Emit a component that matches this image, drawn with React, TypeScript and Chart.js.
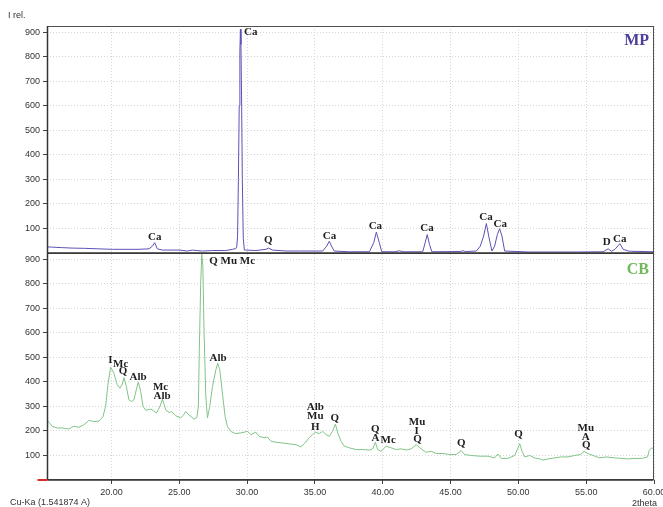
import React, { useEffect, useRef } from "react";
import { Chart, registerables } from "chart.js";

Chart.register(...registerables);

// ---- MP pattern (top panel) ----
const mpTheta = [
  15.25, 15.6, 16.3, 17.1, 18.0, 19.0, 20.06, 21.0, 22.03, 22.77, 23.02, 23.19, 23.38, 23.75,
  24.98, 25.6, 25.97, 26.3, 26.71, 27.45, 28.43, 28.92, 29.17, 29.24, 29.3, 29.36, 29.42, 29.47,
  29.51, 29.55, 29.6, 29.65, 29.72, 29.8, 29.91, 30.65, 31.39, 31.58, 31.88, 32.87, 33.85, 35.57,
  35.87, 36.06, 36.26, 36.43, 37.54, 39.02, 39.34, 39.53, 39.75, 39.93, 40.9, 41.23, 41.5, 42.95,
  43.13, 43.28, 43.45, 43.62, 45.7, 45.91, 46.1, 46.9, 47.19, 47.44, 47.64, 47.84, 48.05, 48.25,
  48.45, 48.62, 48.79, 48.99, 50.84, 54.28, 56.25, 56.62, 56.87, 57.12, 57.48, 57.73, 58.1, 58.35,
  60.0,
];
const mpIntensity = [
  25, 24, 22, 20, 19, 17, 15, 15, 15, 17, 28, 42, 17, 12,
  12, 8, 12, 10, 8, 10, 10, 15, 18, 25, 70, 300, 600, 820,
  912, 850, 600, 300, 60, 12, 12, 10, 15, 20, 12, 8, 8, 8,
  28, 48, 24, 8, 5, 5, 42, 85, 42, 5, 5, 9, 5, 5,
  42, 75, 35, 5, 6, 9, 6, 8, 28, 69, 120, 62, 8, 28,
  75, 99, 69, 8, 4, 4, 5, 17, 7, 15, 38, 15, 8, 7,
  5,
];

// ---- CB pattern (bottom panel) ----
const cbTheta = [
  15.18, 15.4, 15.63, 16.0, 16.37, 16.6, 16.86, 17.05, 17.23, 17.6, 17.97, 18.34, 18.7, 19.08,
  19.37, 19.57, 19.74, 19.94, 20.18, 20.43, 20.63, 20.8, 20.92, 21.1, 21.29, 21.49, 21.66, 21.83,
  21.98, 22.16, 22.33, 22.53, 22.9, 23.1, 23.31, 23.56, 23.76, 24.0, 24.25, 24.44, 24.74, 25.11,
  25.28, 25.48, 25.72, 26.09, 26.3, 26.41, 26.48, 26.58, 26.66, 26.74, 26.83, 26.96, 27.08, 27.25,
  27.45, 27.7, 27.84, 27.99, 28.18, 28.38, 28.55, 28.8, 29.17, 29.54, 29.79, 30.03, 30.28, 30.65,
  30.89, 31.26, 31.5, 31.76, 32.12, 32.62, 33.11, 33.6, 33.97, 34.22, 34.58, 34.83, 35.03, 35.32,
  35.57, 35.82, 36.06, 36.3, 36.51, 36.68, 36.93, 37.17, 37.54, 38.04, 38.52, 39.02, 39.26, 39.46,
  39.63, 39.88, 40.25, 40.62, 40.99, 41.36, 41.73, 42.1, 42.47, 42.83, 43.2, 43.57, 43.94, 44.43,
  44.93, 45.42, 45.79, 46.03, 46.52, 47.14, 47.75, 48.25, 48.49, 48.74, 49.23, 49.73, 49.92, 50.1,
  50.27, 50.47, 50.84, 51.2, 51.58, 51.82, 52.19, 52.68, 53.17, 53.66, 54.16, 54.6, 54.85, 55.1,
  55.51, 56.0, 56.5, 57.11, 57.61, 58.1, 58.59, 59.09, 59.53, 59.65, 59.82, 60.0,
];
const cbIntensity = [
  250, 235, 219, 212, 212, 210, 208, 214, 219, 215, 225, 243, 238, 240,
  257, 300, 388, 460, 435, 388, 374, 390, 417, 381, 327, 320, 327, 367,
  399, 361, 300, 284, 289, 282, 273, 297, 330, 286, 275, 279, 262, 253,
  262, 279, 265, 248, 255, 300, 530, 800, 920, 870, 600, 340, 253, 300,
  381, 449, 476, 449, 354, 259, 219, 198, 189, 192, 195, 198, 185, 195,
  178, 172, 175, 158, 154, 151, 147, 144, 135, 148, 172, 185, 195, 189,
  198, 185, 178, 198, 228, 192, 158, 138, 131, 124, 124, 122, 127, 154,
  124, 117, 138, 131, 124, 127, 122, 127, 144, 127, 113, 117, 108, 108,
  104, 104, 120, 104, 100, 97, 97, 90, 106, 88, 88, 100, 124, 148,
  117, 94, 100, 90, 86, 81, 86, 90, 94, 94, 100, 104, 117, 108,
  100, 90, 94, 90, 88, 86, 88, 88, 94, 121, 131, 127,
];

// ---- ticks ----
const xTickValues = [20, 25, 30, 35, 40, 45, 50, 55, 60];
const yTickValues = [100, 200, 300, 400, 500, 600, 700, 800, 900];

// ---- phase labels ----
const mpLabelNames = ["Ca", "Ca", "Q", "Ca", "Ca", "Ca", "Ca", "Ca", "D", "Ca"];
const mpLabelTheta = [23.2, 30.27, 31.56, 36.07, 39.46, 43.26, 47.62, 48.66, 56.52, 57.48];
const mpLabelLevel = [65, 899, 53, 69, 108, 102, 146, 116, 43, 55];

const cbLabelNames = ["Q Mu Mc", "I", "Mc", "Q", "Alb", "Mc", "Alb", "Alb", "Alb", "Mu", "H", "Q",
  "Q", "A", "Mc", "Mu", "I", "Q", "Q", "Q", "Mu", "A", "Q"];
const cbLabelTheta = [28.9, 19.93, 20.68, 20.85, 21.96, 23.62, 23.73, 27.87, 35.03, 35.03, 35.03, 36.46,
  39.46, 39.46, 40.4, 42.53, 42.5, 42.56, 45.79, 50.02, 54.97, 54.97, 55.0];
const cbLabelLevel = [891, 489, 473, 443, 418, 378, 343, 495, 297, 260, 217, 252,
  209, 171, 161, 236, 201, 165, 150, 185, 213, 175, 142];

const MP_COLOR = "#5b52b5";
const CB_COLOR = "#80c487";

const overlayPlugin = {
  id: "xrdOverlay",
  afterDatasetsDraw(chart: any) {
    const { ctx, chartArea, scales } = chart;
    const xs = scales.x;
    const yt = scales.yTop;
    const yb = scales.yBottom;
    ctx.save();
    // labels
    ctx.fillStyle = "#1e1e1e";
    ctx.font = "bold 11px 'Liberation Serif', serif";
    ctx.textAlign = "center";
    ctx.textBaseline = "middle";
    mpLabelNames.forEach((t, i) => {
      ctx.fillText(t, xs.getPixelForValue(mpLabelTheta[i]), yt.getPixelForValue(mpLabelLevel[i]));
    });
    cbLabelNames.forEach((t, i) => {
      ctx.fillText(t, xs.getPixelForValue(cbLabelTheta[i]), yb.getPixelForValue(cbLabelLevel[i]));
    });
    // panel titles
    ctx.font = "bold 16px 'Liberation Serif', serif";
    ctx.textAlign = "right";
    ctx.fillStyle = "#4a3f9a";
    ctx.fillText("MP", chartArea.right - 5, yt.top + 15);
    ctx.fillStyle = "#72b85c";
    ctx.fillText("CB", chartArea.right - 5, yb.top + 17);
    // frames
    ctx.strokeStyle = "#505050";
    ctx.lineWidth = 1;
    const l = Math.round(chartArea.left) + 0.5;
    const r = Math.round(chartArea.right) - 0.5;
    ctx.strokeRect(l, Math.round(yt.top) + 0.5, r - l, Math.round(yt.bottom) - Math.round(yt.top));
    ctx.strokeRect(l, Math.round(yb.top) + 0.5, r - l, Math.round(yb.bottom) - Math.round(yb.top) - 1);
    ctx.strokeStyle = "#333";
    ctx.lineWidth = 1.5;
    ctx.beginPath();
    ctx.moveTo(l, yb.top);
    ctx.lineTo(r, yb.top);
    ctx.moveTo(l, yt.top);
    ctx.lineTo(l, yb.bottom);
    ctx.moveTo(l, yb.bottom);
    ctx.lineTo(r, yb.bottom);
    ctx.stroke();
    // red origin mark
    ctx.strokeStyle = "#d42a2a";
    ctx.lineWidth = 2;
    ctx.beginPath();
    ctx.moveTo(l - 10, yb.bottom);
    ctx.lineTo(l, yb.bottom);
    ctx.stroke();
    // captions
    ctx.fillStyle = "#333";
    ctx.font = "9px 'Liberation Sans', Arial, sans-serif";
    ctx.textAlign = "left";
    ctx.fillText("I rel.", 8, 16);
    ctx.fillText("Cu-Ka (1.541874 A)", 10, 503);
    ctx.textAlign = "right";
    ctx.fillText("2theta", 657, 504);
    ctx.restore();
  },
};

function yScale(): any {
  return {
    type: "linear",
    position: "left",
    stack: "panels",
    stackWeight: 1,
    min: 0,
    max: 925,
    afterBuildTicks: (s: any) => {
      s.ticks = yTickValues.map((v) => ({ value: v }));
    },
    afterFit: (s: any) => {
      s.width = 47;
      s.paddingTop = 0;
      s.paddingBottom = 0;
    },
    ticks: {
      color: "#333",
      padding: 3,
      font: { family: "'Liberation Sans', Arial, sans-serif", size: 9 },
    },
    grid: {
      color: "#d6d6d6",
      borderDash: [1, 2],
      tickColor: "#444",
      tickLength: 4,
      tickBorderDash: [],
    },
    border: { display: false, dash: [1, 2] },
  };
}

export default function App() {
  const ref = useRef<HTMLCanvasElement | null>(null);
  useEffect(() => {
    if (!ref.current) return;
    const chart = new Chart(ref.current, {
      type: "line",
      data: {
        datasets: [
          {
            label: "CB",
            data: cbTheta.map((x, i) => ({ x, y: cbIntensity[i] })),
            borderColor: CB_COLOR,
            borderWidth: 1,
            pointRadius: 0,
            tension: 0,
            yAxisID: "yBottom",
          },
          {
            label: "MP",
            data: mpTheta.map((x, i) => ({ x, y: mpIntensity[i] })),
            borderColor: MP_COLOR,
            borderWidth: 1,
            pointRadius: 0,
            tension: 0,
            yAxisID: "yTop",
          },
        ],
      },
      options: {
        responsive: false,
        animation: false,
        devicePixelRatio: 1,
        layout: { padding: { top: 26, right: 9, left: 0, bottom: 0 } },
        plugins: { legend: { display: false }, tooltip: { enabled: false } },
        scales: {
          x: {
            type: "linear",
            position: "bottom",
            min: 15.25,
            max: 60,
            afterBuildTicks: (s: any) => {
              s.ticks = xTickValues.map((v) => ({ value: v }));
            },
            afterFit: (s: any) => {
              s.height = 27;
              s.paddingLeft = 0;
              s.paddingRight = 0;
            },
            ticks: {
              color: "#333",
              padding: 3,
              maxRotation: 0,
              font: { family: "'Liberation Sans', Arial, sans-serif", size: 9 },
              callback: (v: any) => Number(v).toFixed(2),
            },
            grid: {
              color: "#d6d6d6",
              borderDash: [1, 2],
              tickColor: "#444",
              tickLength: 4,
              tickBorderDash: [],
            },
            border: { display: false, dash: [1, 2] },
          },
          yBottom: yScale(),
          yTop: yScale(),
        },
      } as any,
      plugins: [overlayPlugin],
    });
    return () => chart.destroy();
  }, []);
  return (
    <div style={{ position: "fixed", left: 0, top: 0, width: 663, height: 507, background: "#fff" }}>
      <canvas ref={ref} width={663} height={507} style={{ width: 663, height: 507 }} />
    </div>
  );
}
